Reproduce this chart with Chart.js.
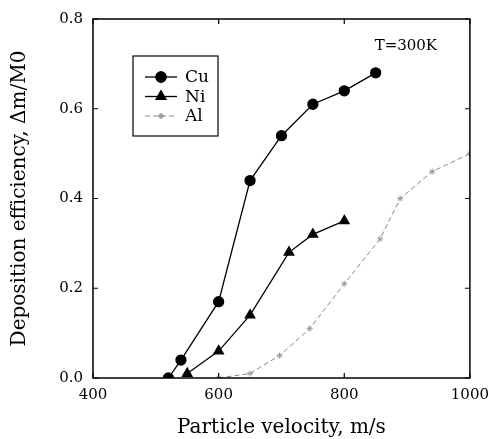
<!DOCTYPE html>
<html>
<head>
<meta charset="utf-8">
<script src="https://cdn.jsdelivr.net/npm/chart.js@4/dist/chart.umd.min.js"></script>
<style>
  body { margin: 0; background: #fff; }
  #wrap { width: 497px; height: 439px; }
</style>
</head>
<body>
<div id="wrap"><canvas id="chart"></canvas></div>
<script>
// deposition efficiency vs particle velocity at T=300K
const cuVel = [520, 540, 600, 650, 700, 750, 800, 850];
const cuEff = [0.0, 0.04, 0.17, 0.44, 0.54, 0.61, 0.64, 0.68];
const niVel = [550, 600, 650, 712, 750, 800];
const niEff = [0.01, 0.06, 0.14, 0.28, 0.32, 0.35];
const alVel = [600, 650, 697, 745, 800, 857, 889, 940, 1000];
const alEff = [0.0, 0.01, 0.05, 0.11, 0.21, 0.31, 0.40, 0.46, 0.50];
const xTicks = [400, 600, 800, 1000];
const yTicks = [0.0, 0.2, 0.4, 0.6, 0.8];

const SERIF = '"DejaVu Serif", "Liberation Serif", serif';

function pairs(xs, ys) {
  return xs.map((x, i) => ({ x: x, y: ys[i] }));
}

// box frame + inward tick marks
const frame = {
  id: 'frame',
  afterDraw(c) {
    const { ctx, chartArea: a, scales } = c;
    ctx.save();
    ctx.strokeStyle = '#000';
    ctx.lineWidth = 1.5;
    ctx.strokeRect(a.left, a.top, a.right - a.left, a.bottom - a.top);
    ctx.lineWidth = 1.2;
    ctx.beginPath();
    yTicks.forEach(v => {
      const py = scales.y.getPixelForValue(v);
      ctx.moveTo(a.left, py); ctx.lineTo(a.left + 5, py);
      ctx.moveTo(a.right, py); ctx.lineTo(a.right - 5, py);
    });
    xTicks.forEach(v => {
      const px = scales.x.getPixelForValue(v);
      ctx.moveTo(px, a.bottom); ctx.lineTo(px, a.bottom - 5);
      ctx.moveTo(px, a.top); ctx.lineTo(px, a.top + 5);
    });
    ctx.stroke();
    ctx.restore();
  }
};

// legend box drawn inside the plot
const boxLegend = {
  id: 'boxLegend',
  afterDraw(c) {
    const { ctx, chartArea: a } = c;
    const x0 = a.left + 40, y0 = a.top + 37, w = 85, h = 80;
    ctx.save();
    ctx.fillStyle = '#fff';
    ctx.fillRect(x0, y0, w, h);
    ctx.strokeStyle = '#000';
    ctx.lineWidth = 1.2;
    ctx.strokeRect(x0, y0, w, h);
    ctx.font = '17px ' + SERIF;
    ctx.textBaseline = 'middle';
    c.data.datasets.forEach((ds, i) => {
      const cy = y0 + 21 + i * 19.5;
      ctx.strokeStyle = ds.borderColor;
      ctx.lineWidth = ds.borderWidth;
      ctx.setLineDash(ds.borderDash || []);
      ctx.beginPath();
      ctx.moveTo(x0 + 12, cy); ctx.lineTo(x0 + 44, cy);
      ctx.stroke();
      ctx.setLineDash([]);
      Chart.helpers.drawPoint(ctx, {
        pointStyle: ds.pointStyle,
        radius: ds.pointRadius,
        borderWidth: 1
      }, x0 + 28, cy);
      ctx.fillStyle = ds.pointBackgroundColor;
      ctx.strokeStyle = ds.pointBorderColor;
      ctx.fill();
      ctx.stroke();
      ctx.fillStyle = '#000';
      ctx.fillText(ds.label, x0 + 52, cy + 1);
    });
    ctx.restore();
  }
};

const note = {
  id: 'note',
  afterDraw(c) {
    const { ctx, scales } = c;
    ctx.save();
    ctx.font = '15px ' + SERIF;
    ctx.fillStyle = '#000';
    ctx.textAlign = 'center';
    ctx.textBaseline = 'middle';
    ctx.fillText('T=300K', scales.x.getPixelForValue(898), scales.y.getPixelForValue(0.74));
    ctx.restore();
  }
};

new Chart(document.getElementById('chart'), {
  type: 'line',
  data: {
    datasets: [
      {
        label: 'Cu',
        data: pairs(cuVel, cuEff),
        borderColor: '#000',
        borderWidth: 1.3,
        pointStyle: 'circle',
        pointRadius: 5,
        pointBackgroundColor: '#000',
        pointBorderColor: '#000',
        tension: 0
      },
      {
        label: 'Ni',
        data: pairs(niVel, niEff),
        borderColor: '#000',
        borderWidth: 1.3,
        pointStyle: 'triangle',
        pointRadius: 5.5,
        pointBackgroundColor: '#000',
        pointBorderColor: '#000',
        tension: 0
      },
      {
        label: 'Al',
        data: pairs(alVel, alEff),
        borderColor: '#888',
        borderWidth: 1,
        borderDash: [5, 3],
        pointStyle: 'star',
        pointRadius: 3,
        pointBackgroundColor: '#aaa',
        pointBorderColor: '#999',
        tension: 0
      }
    ]
  },
  options: {
    responsive: true,
    maintainAspectRatio: false,
    animation: false,
    layout: { padding: { top: 15, right: 26, left: 0, bottom: 0 } },
    plugins: {
      legend: { display: false },
      tooltip: { enabled: false }
    },
    scales: {
      x: {
        type: 'linear',
        min: 400,
        max: 1000,
        afterFit: s => { s.height = 61; },
        afterBuildTicks: s => { s.ticks = xTicks.map(v => ({ value: v })); },
        grid: { display: false, drawTicks: false },
        border: { display: false },
        ticks: {
          color: '#000',
          padding: 8,
          font: { family: SERIF, size: 15 },
          callback: v => String(v)
        },
        title: {
          display: true,
          text: 'Particle velocity, m/s',
          color: '#000',
          padding: { top: 12, bottom: -1 },
          font: { family: SERIF, size: 20 }
        }
      },
      y: {
        min: 0,
        max: 0.8,
        afterFit: s => { s.width = 93; },
        afterBuildTicks: s => { s.ticks = yTicks.map(v => ({ value: v })); },
        grid: { display: false, drawTicks: false },
        border: { display: false },
        ticks: {
          color: '#000',
          padding: 10,
          font: { family: SERIF, size: 15 },
          callback: v => v.toFixed(1)
        },
        title: {
          display: true,
          text: 'Deposition efficiency, Δm/M0',
          color: '#000',
          padding: { top: 8, bottom: 0 },
          font: { family: SERIF, size: 20 }
        }
      }
    }
  },
  plugins: [frame, boxLegend, note]
});
</script>
</body>
</html>
